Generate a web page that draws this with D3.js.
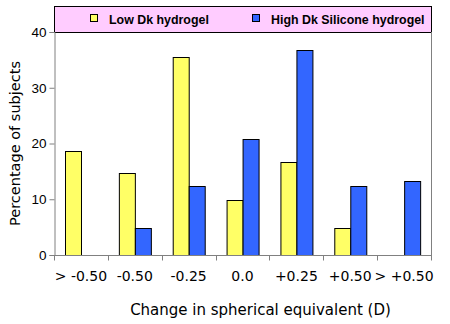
<!DOCTYPE html>
<html>
<head>
<meta charset="utf-8">
<script src="https://cdn.jsdelivr.net/npm/d3@7"></script>
<style>
  html, body { margin: 0; padding: 0; background: #fff; }
  svg { display: block; }
</style>
</head>
<body>
<div id="chart"></div>
<script>
// Refraction change categories and percentage of subjects per lens group
const categories = ["> -0.50", "-0.50", "-0.25", "0.0", "+0.25", "+0.50", "> +0.50"];
const lowDk = [18.7, 14.7, 35.5, 9.9, 16.7, 4.8, 0];
const highDk = [0, 4.8, 12.3, 20.8, 36.7, 12.3, 13.3];
const seriesNames = ["Low Dk hydrogel", "High Dk Silicone hydrogel"];
const seriesColors = ["#ffff66", "#3366ff"];
const yTicks = [0, 10, 20, 30, 40];

const width = 450, height = 324;
const margin = { top: 32, right: 19, bottom: 69, left: 54 };
const innerW = width - margin.left - margin.right;
const innerH = height - margin.top - margin.bottom;

const svg = d3.select("#chart").append("svg")
    .attr("width", width)
    .attr("height", height);

const x = d3.scaleBand()
    .domain(categories)
    .range([margin.left, margin.left + innerW])
    .paddingInner(0)
    .paddingOuter(0);

// two bars per category, sitting in the middle of the band
const inner = d3.scaleBand()
    .domain([0, 1])
    .range([0, x.bandwidth()])
    .paddingInner(0)
    .paddingOuter(0.68);

const y = d3.scaleLinear()
    .domain([0, 40])
    .range([margin.top + innerH, margin.top]);

// Legend strip across the top of the plot
const legend = svg.append("g");
legend.append("rect")
    .attr("x", margin.left + 0.5)
    .attr("y", 6.5)
    .attr("width", innerW)
    .attr("height", margin.top - 6)
    .attr("fill", "#ffccff")
    .attr("stroke", "#000")
    .attr("stroke-width", 1);

const legendX = [90, 252];
seriesNames.forEach((name, i) => {
    legend.append("rect")
        .attr("x", legendX[i] + 0.5)
        .attr("y", 14.5)
        .attr("width", 7)
        .attr("height", 7)
        .attr("fill", seriesColors[i])
        .attr("stroke", "#000");
    legend.append("text")
        .attr("x", legendX[i] + 19)
        .attr("y", 24)
        .attr("font-family", "Liberation Sans, Arial, sans-serif")
        .attr("font-weight", "bold")
        .attr("font-size", 12.4)
        .attr("fill", "#000")
        .text(name);
});

// Right edge of the plot area
svg.append("line")
    .attr("x1", margin.left + innerW + 0.5)
    .attr("x2", margin.left + innerW + 0.5)
    .attr("y1", margin.top)
    .attr("y2", margin.top + innerH)
    .attr("stroke", "#808080");

// Bars
const rows = categories.map((c, i) => ({ cat: c, vals: [lowDk[i], highDk[i]] }));
const groups = svg.append("g").selectAll("g")
    .data(rows)
    .join("g")
    .attr("transform", d => `translate(${x(d.cat)},0)`);

groups.selectAll("rect")
    .data(d => d.vals.map((v, k) => ({ k, v })).filter(e => e.v > 0))
    .join("rect")
    .attr("x", d => Math.round(inner(d.k)) + 0.5)
    .attr("y", d => Math.round(y(d.v)) + 0.5)
    .attr("width", Math.round(inner.bandwidth()))
    .attr("height", d => Math.round(y(0)) - Math.round(y(d.v)))
    .attr("fill", d => seriesColors[d.k])
    .attr("stroke", "#000")
    .attr("stroke-width", 1);

// Y axis
const yAxis = svg.append("g")
    .attr("transform", `translate(${margin.left + 0.5},0)`)
    .call(d3.axisLeft(y).tickValues(yTicks).tickSize(5).tickPadding(3));
yAxis.select(".domain").attr("stroke", "#808080");
yAxis.selectAll(".tick line").attr("stroke", "#808080");
yAxis.selectAll("text")
    .attr("font-family", "Liberation Sans, Arial, sans-serif")
    .attr("font-size", 13.5)
    .attr("fill", "#000");

// X axis with ticks at category boundaries
const xAxis = svg.append("g")
    .attr("transform", `translate(0,${margin.top + innerH + 0.5})`);
xAxis.append("line")
    .attr("x1", margin.left)
    .attr("x2", margin.left + innerW + 1)
    .attr("stroke", "#808080");
const bounds = categories.map(c => x(c)).concat([x(categories[categories.length - 1]) + x.bandwidth()]);
xAxis.selectAll("line.tick")
    .data(bounds)
    .join("line")
    .attr("class", "tick")
    .attr("x1", d => Math.round(d) + 0.5)
    .attr("x2", d => Math.round(d) + 0.5)
    .attr("y1", 0)
    .attr("y2", 5)
    .attr("stroke", "#808080");
xAxis.selectAll("text")
    .data(categories)
    .join("text")
    .attr("x", d => x(d) + x.bandwidth() / 2)
    .attr("y", 25)
    .attr("text-anchor", "middle")
    .attr("font-family", "DejaVu Sans, Verdana, sans-serif")
    .attr("font-size", 14)
    .attr("fill", "#000")
    .text(d => d);

// Axis titles
svg.append("text")
    .attr("x", margin.left + innerW / 2 + 18)
    .attr("y", 315)
    .attr("text-anchor", "middle")
    .attr("font-family", "DejaVu Sans, Verdana, sans-serif")
    .attr("font-size", 15)
    .attr("fill", "#000")
    .text("Change in spherical equivalent (D)");

svg.append("text")
    .attr("transform", `translate(15,${(57 + 230) / 2}) rotate(-90)`)
    .attr("text-anchor", "middle")
    .attr("dy", "0.35em")
    .attr("font-family", "DejaVu Sans, Verdana, sans-serif")
    .attr("font-size", 14.5)
    .attr("fill", "#000")
    .text("Percentage of subjects");
</script>
</body>
</html>
